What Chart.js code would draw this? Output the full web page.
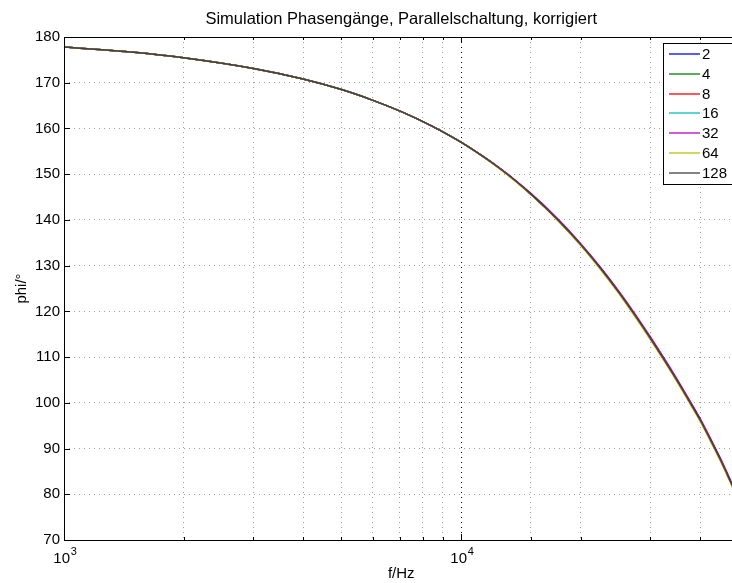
<!DOCTYPE html>
<html><head><meta charset="utf-8">
<script src="https://cdn.jsdelivr.net/npm/chart.js@4.4.0/dist/chart.umd.min.js"></script>
<style>
html,body{margin:0;padding:0;background:#fff;overflow:hidden;width:732px;height:583px}
#c{position:absolute;left:0;top:0;width:748px;height:583px}
</style>
</head><body><canvas id="c" width="748" height="583"></canvas>
<script>
// ---- data ----
const frequencies = [1000,1500,2000,3000,4000,5000,6000,7000,8000,9000,10000,12500,15000,17500,20000,22500,25000,27500,30000,32500,35000,37500,40000,42500,45000,47500,50000];
const seriesLabels = ['2','4','8','16','32','64','128'];
const phase2   = [177.8,176.65,175.45,173.1,170.8,168.5,166.15,163.85,161.55,159.27,157.0,151.3,145.65,140.1,134.65,129.3,124.1,119.0,114.1,109.4,104.9,100.5,96.3,91.9,87.6,83.2,78.9];
const phase4   = [177.8,176.65,175.45,173.1,170.8,168.5,166.15,163.85,161.55,159.27,157.0,151.3,145.65,140.1,134.65,129.3,124.1,119.0,114.1,109.4,104.9,100.5,96.3,91.9,87.6,83.2,78.9];
const phase8   = [177.8,176.65,175.45,173.1,170.8,168.5,166.15,163.85,161.55,159.27,157.0,151.3,145.65,140.1,134.65,129.3,124.1,119.0,114.1,109.4,104.9,100.5,96.3,91.9,87.6,83.2,78.9];
const phase16  = [177.8,176.65,175.45,173.1,170.8,168.5,166.15,163.85,161.55,159.27,157.0,151.3,145.65,140.1,134.65,129.3,124.1,119.0,114.1,109.4,104.9,100.5,96.3,91.9,87.6,83.2,78.9];
const phase32  = [177.8,176.65,175.45,173.1,170.8,168.5,166.15,163.85,161.55,159.27,157.0,151.4,145.8,140.3,134.85,129.55,124.35,119.3,114.4,109.7,105.2,100.8,96.6,92.2,87.9,83.5,79.2];
const phase64  = [177.8,176.65,175.45,173.1,170.8,168.5,166.15,163.85,161.55,159.27,157.0,151.2,145.5,139.9,134.45,129.05,123.85,118.7,113.8,109.1,104.6,100.2,96.0,91.6,87.3,82.9,78.6];
const phase128 = [177.8,176.65,175.45,173.1,170.8,168.5,166.15,163.85,161.55,159.27,157.0,151.3,145.65,140.1,134.65,129.3,124.1,119.0,114.1,109.4,104.9,100.5,96.3,91.9,87.6,83.2,78.9];
const seriesValues = [phase2, phase4, phase8, phase16, phase32, phase64, phase128];
const seriesColors = ['#0000ff','#008000','#ff0000','#00bfbf','#bf00bf','#bfbf00','#404040'];
const xMin = 1000, xMax = 50000;
const yMin = 70, yMax = 180, yStep = 10;

const FONT = "'Liberation Sans', Arial, Helvetica, sans-serif";
const n = seriesLabels.length;

const datasets = seriesLabels.map((lab, i) => ({
  label: lab,
  data: frequencies.map((f, j) => ({x: f, y: seriesValues[i][j]})),
  borderColor: seriesColors[i],
  backgroundColor: seriesColors[i],
  borderWidth: 1.5,
  pointRadius: 0,
  fill: false,
  order: n - 1 - i,
  cubicInterpolationMode: 'monotone'
}));

const isDecade = (v) => Math.abs(Math.log10(v) - Math.round(Math.log10(v))) < 1e-9;
const X_LABEL_OFFSET = -2.3;

const framePlugin = {
  id: 'frame',
  afterDatasetsDraw(chart) {
    const ctx = chart.ctx, ca = chart.chartArea;
    const xs = chart.scales.x, ys = chart.scales.y;
    ctx.save();
    ctx.strokeStyle = '#000';
    ctx.lineWidth = 1;
    ctx.setLineDash([]);
    ctx.beginPath();
    ys.ticks.forEach(t => {
      const y = Math.round(ys.getPixelForValue(t.value)) + 0.5;
      ctx.moveTo(ca.left, y); ctx.lineTo(ca.left + 6, y);
      ctx.moveTo(ca.right, y); ctx.lineTo(ca.right - 6, y);
    });
    xs.ticks.forEach(t => {
      const len = isDecade(t.value) ? 6 : 3;
      const x = Math.round(xs.getPixelForValue(t.value)) + 0.5;
      ctx.moveTo(x, ca.bottom); ctx.lineTo(x, ca.bottom - len);
      ctx.moveTo(x, ca.top); ctx.lineTo(x, ca.top + len);
    });
    ctx.stroke();
    const l = Math.round(ca.left) + 0.5, r = Math.round(ca.right) + 0.5;
    const tp = Math.round(ca.top) + 0.5, b = Math.round(ca.bottom) + 0.5;
    ctx.strokeRect(l, tp, r - l, b - tp);
    ctx.restore();
  },
  afterDraw(chart) {
    const ctx = chart.ctx, ca = chart.chartArea;
    const xs = chart.scales.x;
    ctx.save();
    // exponents of the decade tick labels (10^3, 10^4)
    ctx.fillStyle = '#000';
    xs.ticks.forEach(t => {
      if (!isDecade(t.value)) return;
      ctx.font = '15px ' + FONT;
      const w10 = ctx.measureText('10').width;
      const x = xs.getPixelForValue(t.value) + X_LABEL_OFFSET + w10 / 2 + 0.7;
      ctx.font = '11px ' + FONT;
      ctx.textAlign = 'left';
      ctx.textBaseline = 'alphabetic';
      ctx.fillText(String(Math.round(Math.log10(t.value))), x, ca.bottom + 15);
    });
    // legend (its right part is cut off by the window edge, as in the reference)
    const boxL = Math.round(ca.right - 76) + 0.5;
    const boxT = Math.round(ca.top + 5.5) + 0.5;
    const rowH = 19.8;
    const first = ca.top + 17;
    const boxB = Math.round(first + rowH * (n - 1) + 11.3) + 0.5;
    const boxR = Math.round(ca.right + 20) + 0.5;
    ctx.fillStyle = '#fff';
    ctx.fillRect(boxL, boxT, boxR - boxL, boxB - boxT);
    ctx.strokeStyle = '#000';
    ctx.lineWidth = 1;
    ctx.strokeRect(boxL, boxT, boxR - boxL, boxB - boxT);
    ctx.font = '15px ' + FONT;
    ctx.textBaseline = 'middle';
    ctx.textAlign = 'left';
    chart.data.datasets.forEach((ds, i) => {
      const y = Math.round(first + i * rowH);
      ctx.strokeStyle = ds.borderColor;
      ctx.lineWidth = 1.3;
      ctx.beginPath();
      ctx.moveTo(boxL + 5.5, y); ctx.lineTo(boxL + 36.5, y);
      ctx.stroke();
      ctx.fillStyle = '#000';
      ctx.fillText(ds.label, boxL + 38.5, y + 0.5);
    });
    ctx.restore();
  }
};

new Chart(document.getElementById('c'), {
  type: 'line',
  data: { datasets },
  options: {
    responsive: false,
    maintainAspectRatio: false,
    animation: false,
    devicePixelRatio: 1,
    layout: { padding: { left: 0, right: 8, top: 0, bottom: 0 } },
    plugins: {
      legend: { display: false },
      tooltip: { enabled: false },
      title: {
        display: true,
        text: 'Simulation Phasengänge, Parallelschaltung, korrigiert',
        fullSize: false,
        color: '#000',
        font: { family: FONT, size: 16.5, weight: 'normal' },
        padding: { top: 9.6, bottom: 7.6 }
      }
    },
    scales: {
      x: {
        type: 'logarithmic',
        min: xMin, max: xMax,
        afterFit(s) { s.height = 43; },
        border: { display: false, dash: [1, 4] },
        grid: {
          drawTicks: false,
          color: (c) => (c.tick && c.tick.value === 10000) ? '#000' : '#a0a0a0',
          lineWidth: 1
        },
        ticks: {
          autoSkip: false,
          maxRotation: 0,
          padding: 9.5,
          labelOffset: X_LABEL_OFFSET,
          color: '#000',
          font: { family: FONT, size: 15 },
          callback: (v) => isDecade(v) ? '10' : ''
        },
        title: {
          display: true, text: 'f/Hz', color: '#000',
          font: { family: FONT, size: 15 },
          padding: { top: 0, bottom: 0 }
        }
      },
      y: {
        min: yMin, max: yMax,
        afterFit(s) { s.width = 64; },
        border: { display: false, dash: [1, 4] },
        grid: { drawTicks: false, color: '#a0a0a0', lineWidth: 1 },
        ticks: {
          stepSize: yStep,
          padding: 4,
          color: '#000',
          font: { family: FONT, size: 15 }
        },
        title: {
          display: true, text: 'phi/°', color: '#000',
          font: { family: FONT, size: 15 },
          padding: { top: 12.5, bottom: 0 }
        }
      }
    }
  },
  plugins: [framePlugin]
});
</script>
</body></html>
